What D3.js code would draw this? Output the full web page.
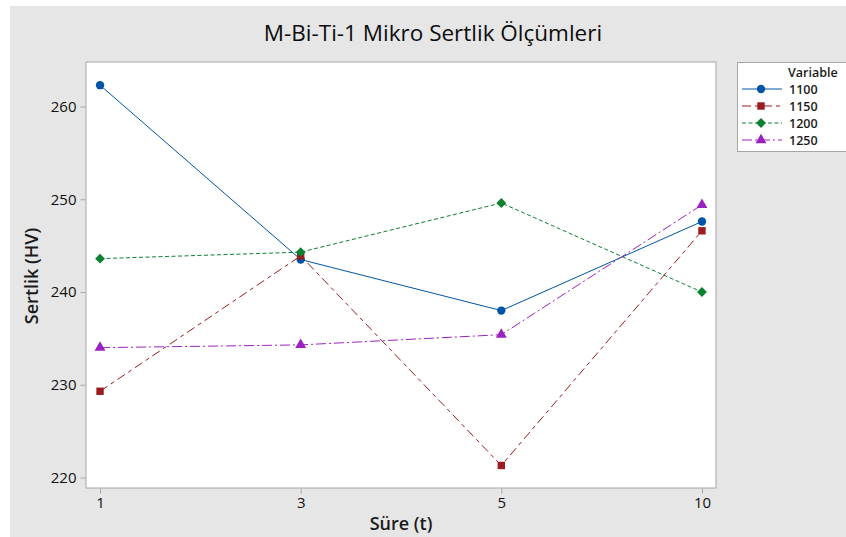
<!DOCTYPE html>
<html><head><meta charset="utf-8">
<script src="https://cdn.jsdelivr.net/npm/d3@7"></script>
<style>html,body{margin:0;padding:0;background:#fff;}svg{display:block;}</style>
</head><body>
<svg id="c" width="846" height="537"></svg>
<script>
const categories = ["1", "3", "5", "10"];
const seriesNames = ["1100", "1150", "1200", "1250"];
const s1100 = [262.3, 243.5, 238.0, 247.6];
const s1150 = [229.3, 243.9, 221.3, 246.6];
const s1200 = [243.6, 244.3, 249.6, 240.0];
const s1250 = [234.0, 234.3, 235.4, 249.4];
const yTicks = [220, 230, 240, 250, 260];
const title = "M-Bi-Ti-1 Mikro Sertlik Ölçümleri";
const xTitle = "Süre (t)";
const yTitle = "Sertlik (HV)";
const legendTitle = "Variable";

const seriesValues = [s1100, s1150, s1200, s1250];
const colors = ["#0054a6", "#9b1b1e", "#0a8030", "#9b22c0"];
const dashes = [null, "9,4,4,4", "4,2.5", "10,3,2,3"];
const symbols = [d3.symbolCircle, d3.symbolSquare, d3.symbolDiamond2, d3.symbolTriangle];
const symSizes = [55, 55, 62, 52];

const svg = d3.select("#c");
const font = "'Open Sans', 'Noto Sans', sans-serif";

svg.append("rect").attr("x",0).attr("y",0).attr("width",846).attr("height",537).attr("fill","#ffffff");
svg.append("rect").attr("x",10).attr("y",6).attr("width",836).attr("height",531).attr("fill","#e6e6e6");

const L = 86, T = 62, R = 716, B = 488;
const x = d3.scalePoint().domain(categories).range([L, R]).padding(0.07);
const y = d3.scaleLinear().domain([218.87, 264.8]).range([B, T]);

svg.append("rect").attr("x",L).attr("y",T).attr("width",R-L).attr("height",B-T)
  .attr("fill","#fff").attr("stroke","#a6a6a6").attr("stroke-width",1);

const yAxis = svg.append("g").attr("transform",`translate(${L-0.5},0)`)
  .call(d3.axisLeft(y).tickValues(yTicks).tickSize(5).tickPadding(4));
const xAxis = svg.append("g").attr("transform",`translate(0,${B+0.5})`)
  .call(d3.axisBottom(x).tickSize(5).tickPadding(4));
[yAxis, xAxis].forEach(g => {
  g.select(".domain").remove();
  g.selectAll(".tick line").attr("stroke","#a6a6a6");
  g.selectAll(".tick text").attr("fill","#111").style("font-family",font)
    .style("font-size","15px").style("font-weight","500");
});

svg.append("text").attr("x",433).attr("y",41).attr("text-anchor","middle")
  .style("font-family",font).style("font-size","22.5px").style("font-weight","500").attr("fill","#0d0d0d").text(title);
svg.append("text").attr("x",401).attr("y",530).attr("text-anchor","middle")
  .style("font-family",font).style("font-size","18px").style("font-weight","600").attr("fill","#1a1a1a").text(xTitle);
svg.append("text").attr("transform","translate(38,276) rotate(-90)").attr("text-anchor","middle")
  .style("font-family",font).style("font-size","18px").style("font-weight","600").attr("fill","#1a1a1a").text(yTitle);

const line = d3.line().x((d,i)=>x(categories[i])).y(d=>y(d));
seriesValues.forEach((vals, k) => {
  svg.append("path").datum(vals).attr("d", line).attr("fill","none")
    .attr("stroke", colors[k]).attr("stroke-width", 1)
    .attr("stroke-dasharray", dashes[k]);
});
seriesValues.forEach((vals, k) => {
  svg.selectAll(null).data(vals).enter().append("path")
    .attr("transform",(d,i)=>`translate(${x(categories[i])},${y(d)})`)
    .attr("d", d3.symbol().type(symbols[k]).size(symSizes[k]))
    .attr("fill", colors[k]);
});

svg.append("rect").attr("x",737.5).attr("y",62.5).attr("width",120).attr("height",89)
  .attr("fill","#fff").attr("stroke","#a6a6a6");
svg.append("text").attr("x",788).attr("y",77).style("font-family",font).style("font-size","12.5px")
  .style("font-weight","600").attr("fill","#1a1a1a").text(legendTitle);
seriesNames.forEach((nm, k) => {
  const yy = 89 + k*17;
  svg.append("line").attr("x1",742).attr("x2",782).attr("y1",yy).attr("y2",yy)
    .attr("stroke",colors[k]).attr("stroke-width",1).attr("stroke-dasharray",dashes[k]);
  svg.append("path").attr("transform",`translate(761,${yy})`)
    .attr("d", d3.symbol().type(symbols[k]).size(symSizes[k])).attr("fill",colors[k]);
  svg.append("text").attr("x",789).attr("y",yy+4.5).style("font-family",font).style("font-size","12.5px")
    .style("font-weight","600").attr("fill","#1a1a1a").text(nm);
});
</script>
</body></html>
